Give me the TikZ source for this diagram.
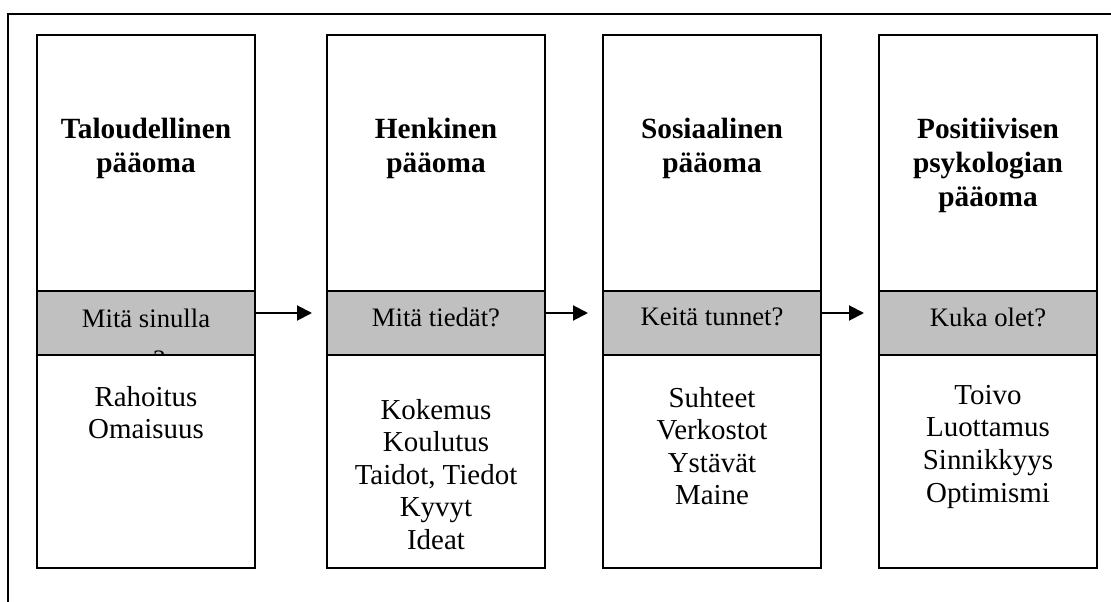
\documentclass[tikz,border=0pt]{standalone}
\usepackage{fontspec}
\setmainfont{Liberation Serif}
\usepackage{tikz}
\usetikzlibrary{positioning}
\usetikzlibrary{arrows.meta}
\definecolor{bandgray}{RGB}{192,192,192}

\begin{document}
\begin{tikzpicture}[
x=0.75pt, y=-0.75pt,
>={Triangle[length=11.25pt,width=11.25pt]},
capitalbox/.style={rectangle, draw=black, line width=1.2pt, minimum width=163.5pt, minimum height=399.75pt, inner sep=0pt, outer sep=0pt},
questionbox/.style={rectangle, draw=black, fill=bandgray, line width=1.2pt, minimum width=163.5pt, minimum height=48pt, inner sep=0pt, outer sep=0pt},
titletext/.style={align=center, inner sep=0pt, font=\bfseries\fontsize{22}{25.5}\selectfont},
questiontext/.style={align=center, inner sep=0pt, font=\fontsize{20}{30.5}\selectfont},
itemtext/.style={align=center, inner sep=0pt, font=\fontsize{21.7}{24.4}\selectfont},
arrowline/.style={->, line width=1.5pt, shorten >=11.25pt},
]
\useasboundingbox (0,0) rectangle (1111,602);

% Outer frame (cut off at the right and bottom)
\draw[line width=1.5pt] (8,602) -- (8,14) -- (1111,14);

% Column boxes
\node[capitalbox]      (box1)      at (146,301.5)              {};
\node[capitalbox]      (box2)      [right=54pt of box1]        {};
\node[capitalbox]      (box3)      [right=43.5pt of box2]      {};
\node[capitalbox]      (box4)      [right=43.5pt of box3]      {};

% Question bands
\node[questionbox]     (band1)     [below=192pt of box1.north] {};
\node[questionbox]     (band2)     [below=192pt of box2.north] {};
\node[questionbox]     (band3)     [below=192pt of box3.north] {};
\node[questionbox]     (band4)     [below=192pt of box4.north] {};

% Titles
\node[titletext]       (title1)    [below=62.25pt of box1.north]  {Taloudellinen\\pääoma};
\node[titletext]       (title2)    [below=62.25pt of box2.north]  {Henkinen\\pääoma};
\node[titletext]       (title3)    [below=62.25pt of box3.north]  {Sosiaalinen\\pääoma};
\node[titletext]       (title4)    [below=62.25pt of box4.north]  {Positiivisen\\psykologian\\pääoma};

% Questions
\begin{scope}
\clip (band1.north west) rectangle (band1.south east);
\node[questiontext]    (ask1)      [below=13.5pt of band1.north]  {Mitä sinulla\\on?};
\end{scope}
\node[questiontext]    (ask2)      [below=12.75pt of band2.north] {Mitä tiedät?};
\node[questiontext]    (ask3)      [below=12.75pt of band3.north] {Keitä tunnet?};
\node[questiontext]    (ask4)      [below=12.75pt of band4.north] {Kuka olet?};

% Contents
\node[itemtext]        (items1)    [below=23.25pt of band1.south] {Rahoitus\\Omaisuus};
\node[itemtext]        (items2)    [below=33pt of band2.south]    {Kokemus\\Koulutus\\Taidot, Tiedot\\Kyvyt\\Ideat};
\node[itemtext]        (items3)    [below=24pt of band3.south]    {Suhteet\\Verkostot\\Ystävät\\Maine};
\node[itemtext]        (items4)    [below=22.5pt of band4.south]  {Toivo\\Luottamus\\Sinnikkyys\\Optimismi};

\draw[arrowline] ([yshift=7.5pt]band1.east) -- ([yshift=7.5pt]band2.west);
\draw[arrowline] ([yshift=7.5pt]band2.east) -- ([yshift=7.5pt]band3.west);
\draw[arrowline] ([yshift=7.5pt]band3.east) -- ([yshift=7.5pt]band4.west);
\end{tikzpicture}
\end{document}
